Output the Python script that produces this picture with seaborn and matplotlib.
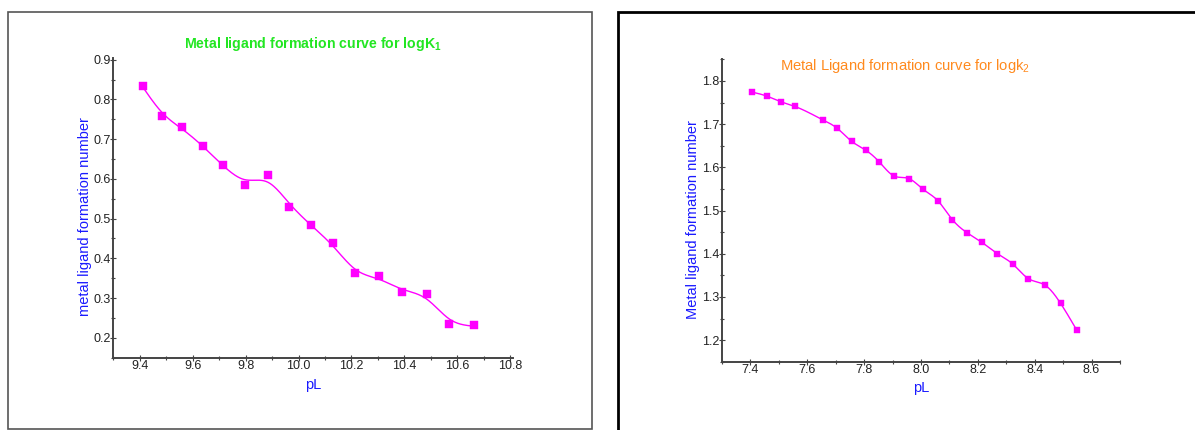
import numpy as np
import pandas as pd
import matplotlib
matplotlib.use("Agg")
import matplotlib.pyplot as plt
from matplotlib.ticker import MultipleLocator, FormatStrFormatter
from matplotlib.patches import Rectangle
import seaborn as sns

# ---------------- data ----------------
pL_k1 = [9.411, 9.485, 9.560, 9.639, 9.716, 9.796, 9.885, 9.964, 10.047,
         10.131, 10.214, 10.305, 10.392, 10.485, 10.570, 10.662]
n_k1 = [0.835, 0.758, 0.730, 0.683, 0.635, 0.584, 0.610, 0.530, 0.483,
        0.438, 0.362, 0.355, 0.315, 0.310, 0.236, 0.233]

pL_k2 = [7.406, 7.457, 7.506, 7.556, 7.657, 7.706, 7.756, 7.805, 7.854,
         7.904, 7.958, 8.007, 8.059, 8.110, 8.161, 8.215, 8.269, 8.323,
         8.378, 8.437, 8.491, 8.547]
n_k2 = [1.774, 1.765, 1.752, 1.741, 1.709, 1.690, 1.660, 1.640, 1.612,
        1.580, 1.574, 1.549, 1.523, 1.479, 1.449, 1.426, 1.400, 1.376,
        1.342, 1.327, 1.285, 1.224]

title_k1 = r"Metal ligand formation curve for logK$_1$"
title_k2 = r"Metal Ligand formation curve for logk$_2$"
ylab_k1 = "metal ligand formation number"
ylab_k2 = "Metal ligand formation number"
xlab = "pL"

xticks_k1 = [9.4, 9.6, 9.8, 10.0, 10.2, 10.4, 10.6, 10.8]
yticks_k1 = [0.2, 0.3, 0.4, 0.5, 0.6, 0.7, 0.8, 0.9]
xticks_k2 = [7.4, 7.6, 7.8, 8.0, 8.2, 8.4, 8.6]
yticks_k2 = [1.2, 1.3, 1.4, 1.5, 1.6, 1.7, 1.8]


def smoothing_spline(x, y, lam, n=500):
    """Penalised (smoothing) spline fit of the data on a fine grid."""
    x = np.asarray(x, float)
    y = np.asarray(y, float)
    g = np.linspace(x.min(), x.max(), n)
    h = g[1] - g[0]
    B = np.zeros((len(x), n))
    for i, xi in enumerate(x):
        j = min(max(np.searchsorted(g, xi) - 1, 0), n - 2)
        t = (xi - g[j]) / h
        B[i, j] = 1 - t
        B[i, j + 1] = t
    D = np.diff(np.eye(n), 2, axis=0)
    A = B.T @ B + lam * (D.T @ D) / h ** 3
    f = np.linalg.solve(A, B.T @ y)
    return pd.DataFrame({"x": g, "y": f})


sns.set_style("white")
plt.rcParams["font.family"] = ["Liberation Sans", "DejaVu Sans"]
plt.rcParams["mathtext.default"] = "regular"

W, H = 1195, 430
fig = plt.figure(figsize=(W / 100, H / 100), dpi=100)
fig.patch.set_facecolor("white")

# panel frames
fig.add_artist(Rectangle((8 / W, 1 - 428.7 / H), (592.3 - 8) / W, (428.7 - 11.7) / H,
                         transform=fig.transFigure, fill=False, ec="#555555", lw=1.2))
fig.add_artist(Rectangle((618.3 / W, -0.1), 0.6, (1 - 12.3 / H) + 0.1,
                         transform=fig.transFigure, fill=False, ec="black", lw=2.0,
                         clip_on=False))

ax1 = fig.add_axes([113.4 / W, 1 - 357.7 / H, 399.3 / W, 300 / H])
ax2 = fig.add_axes([722 / W, 1 - 361.7 / H, 398 / W, 302.4 / H])

magenta = "#ff00ff"
blue = "#1a1aff"
tick_col = "#222222"
spine_col = "#444444"


def style(ax, xlim, ylim, xt, yt):
    ax.set_xlim(*xlim)
    ax.set_ylim(*ylim)
    ax.set_xticks(xt)
    ax.set_yticks(yt)
    ax.xaxis.set_minor_locator(MultipleLocator(0.1))
    ax.yaxis.set_minor_locator(MultipleLocator(0.05))
    ax.xaxis.set_major_formatter(FormatStrFormatter("%.1f"))
    ax.yaxis.set_major_formatter(FormatStrFormatter("%.1f"))
    for s in ["top", "right"]:
        ax.spines[s].set_visible(False)
    for s in ["left", "bottom"]:
        ax.spines[s].set_color(spine_col)
        ax.spines[s].set_linewidth(1.4)
    ax.tick_params(which="major", direction="inout", length=4, width=0.8,
                   colors=spine_col, labelcolor=tick_col, labelsize=9, pad=0)
    ax.tick_params(which="minor", direction="inout", length=3, width=0.8,
                   colors=spine_col)
    ax.tick_params(axis="x", which="both", bottom=True)
    ax.tick_params(axis="y", which="both", left=True)
    ax.set_facecolor("white")
    ax.grid(False)


# left panel
d1 = pd.DataFrame({"x": pL_k1, "y": n_k1})
c1 = smoothing_spline(pL_k1, n_k1, lam=4e-5)
sns.lineplot(data=c1, x="x", y="y", ax=ax1, color=magenta, lw=1.0)
sns.scatterplot(data=d1, x="x", y="y", ax=ax1, marker="s", s=30, color=magenta,
                edgecolor=magenta, linewidth=0.3, zorder=3)
style(ax1, (9.3, 10.81), (0.15, 0.905), xticks_k1, yticks_k1)
ax1.set_xlabel("")
ax1.set_ylabel("")
ax1.text(0.5, 1.046, title_k1, transform=ax1.transAxes, ha="center", va="center",
         color="#22e622", fontsize=10.2, fontweight="bold")
ax1.text(-0.071, 0.47, ylab_k1, transform=ax1.transAxes, ha="center", va="center",
         rotation=90, color=blue, fontsize=10.5)
ax1.text(0.5, -0.091, xlab, transform=ax1.transAxes, ha="center", va="center",
         color=blue, fontsize=10.5)

# right panel
d2 = pd.DataFrame({"x": pL_k2, "y": n_k2})
c2 = smoothing_spline(pL_k2, n_k2, lam=2e-7)
sns.lineplot(data=c2, x="x", y="y", ax=ax2, color=magenta, lw=1.0)
sns.scatterplot(data=d2, x="x", y="y", ax=ax2, marker="s", s=24, color=magenta,
                edgecolor=magenta, linewidth=0.3, zorder=3)
style(ax2, (7.3, 8.7), (1.15, 1.85), xticks_k2, yticks_k2)
ax2.set_xlabel("")
ax2.set_ylabel("")
ax2.text(0.46, 0.977, title_k2, transform=ax2.transAxes, ha="center", va="center",
         color="#ff8a1e", fontsize=10.6)
ax2.text(-0.072, 0.47, ylab_k2, transform=ax2.transAxes, ha="center", va="center",
         rotation=90, color=blue, fontsize=10.5)
ax2.text(0.5, -0.087, xlab, transform=ax2.transAxes, ha="center", va="center",
         color=blue, fontsize=10.5)

fig.savefig("out.png", dpi=100, facecolor="white")
